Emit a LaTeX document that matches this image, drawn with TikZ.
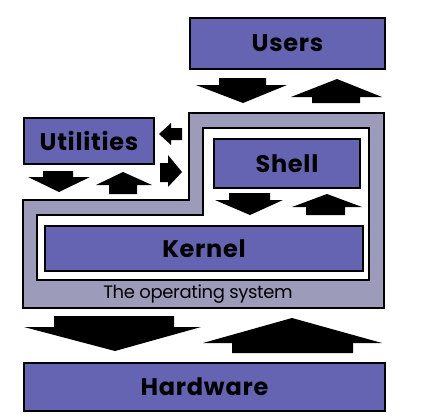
\documentclass[tikz,border=0pt]{standalone}
\usepackage{fontspec}
\setmainfont{Poppins}
\definecolor{boxblue}{HTML}{6464B2}
\definecolor{osgray}{HTML}{9C9CBA}
\begin{document}
\begin{tikzpicture}[x=1pt,y=-1pt,
  box/.style={draw=black,line width=2pt,fill=boxblue,inner sep=0pt,anchor=north west,
    font=\fontsize{24}{24}\selectfont\bfseries\addfontfeature{LetterSpace=3}},
  blk/.style={fill=black},
  oslbl/.style={font=\fontsize{18}{18}\selectfont\addfontfeature{LetterSpace=-2}}]
\useasboundingbox (0,0) rectangle (426,416);
\fill[white] (0,0) rectangle (426,416);
% operating system
\draw[line width=1.5pt,fill=osgray] (23,200) -- (189,200) -- (189,113) -- (384,113) -- (384,308) -- (23,308) -- cycle;
\draw[line width=2pt,fill=white] (37,215) -- (203,215) -- (203,128) -- (369,128) -- (369,280) -- (37,280) -- cycle;
\node[oslbl] (os) at (198,294) {The operating system};
% boxes
\node[box,minimum width=195pt,minimum height=51pt] (users) at (189,17) {Users};
\node[box,minimum width=130pt,minimum height=46pt] (util) at (23,117) {Utilities};
\node[box,minimum width=146pt,minimum height=49pt] (shell) at (213,138) {Shell};
\node[box,minimum width=318pt,minimum height=45pt] (kernel) at (44,225) {Kernel};
\node[box,minimum width=361pt,minimum height=48pt] (hw) at (23,362) {Hardware};
% block arrows
\fill[blk] (219,78) -- (266,78) -- (266,85) -- (287,85) -- (243,103) -- (196,85) -- (219,85) -- cycle;
\fill[blk] (337,79) -- (382,97) -- (360,97) -- (360,103) -- (312,103) -- (312,97) -- (291,97) -- cycle;
\fill[blk] (43,171) -- (73,171) -- (73,177) -- (90,177) -- (59,192) -- (28,177) -- (43,177) -- cycle;
\fill[blk] (123,172) -- (152,185) -- (137,185) -- (137,194) -- (109,194) -- (109,185) -- (96,185) -- cycle;
\fill[blk] (159,134) -- (171,123) -- (171,128) -- (182,128) -- (182,140) -- (171,140) -- (171,145) -- cycle;
\fill[blk] (160,163) -- (168,163) -- (168,155) -- (182,172) -- (168,187) -- (168,182) -- (160,182) -- cycle;
\fill[blk] (229,193) -- (270,193) -- (270,200) -- (283,200) -- (250,215) -- (215,200) -- (229,200) -- cycle;
\fill[blk] (327,194) -- (362,207) -- (345,207) -- (345,215) -- (306,215) -- (306,207) -- (292,207) -- cycle;
\fill[blk] (54,316) -- (174,316) -- (174,327) -- (201,327) -- (115,351) -- (24,327) -- (54,327) -- cycle;
\fill[blk] (292,318) -- (382,343) -- (353,343) -- (353,353) -- (232,353) -- (232,343) -- (203,343) -- cycle;
\end{tikzpicture}
\end{document}
